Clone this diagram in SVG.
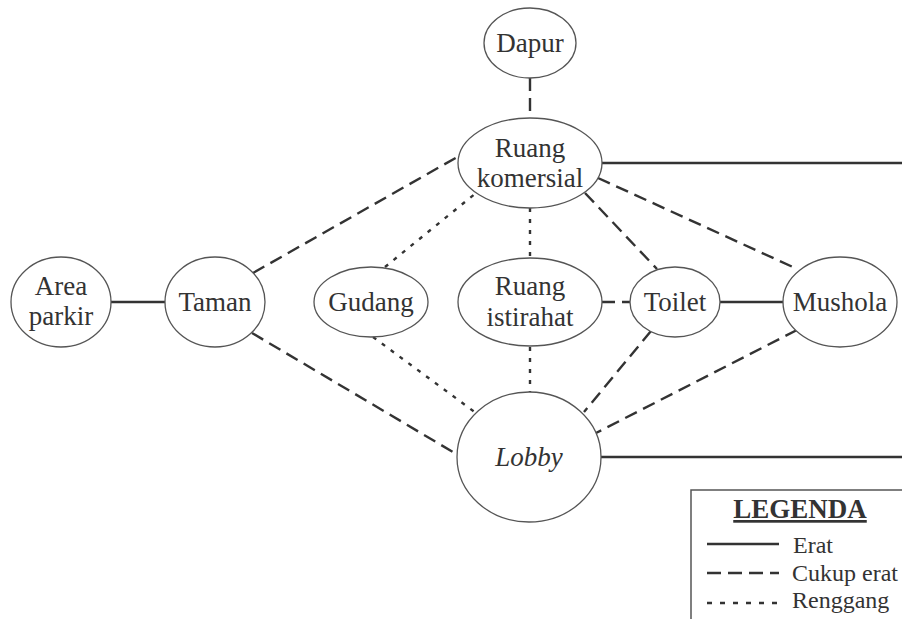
<svg xmlns="http://www.w3.org/2000/svg" width="902" height="619" viewBox="0 0 902 619">
<style>
.n{fill:#fff;stroke:#555;stroke-width:1.3}
.t{font-family:"Liberation Serif","DejaVu Serif",serif;font-size:27px;fill:#333;text-anchor:middle}
.s{fill:none;stroke:#333;stroke-width:2.4}
.d{fill:none;stroke:#333;stroke-width:2.4;stroke-dasharray:13 7}
.o{fill:none;stroke:#333;stroke-width:2.4;stroke-dasharray:4 7}
.l{font-family:"Liberation Serif","DejaVu Serif",serif;font-size:24px;fill:#333}
.h{font-family:"Liberation Serif","DejaVu Serif",serif;font-size:27px;font-weight:bold;fill:#333;text-anchor:middle;text-decoration:underline}
</style>
<rect width="902" height="619" fill="#fff"/>
<g id="connectors">
<line class="s" x1="111" y1="302" x2="165" y2="302"/>
<line class="s" x1="602" y1="163" x2="902" y2="163"/>
<line class="s" x1="601" y1="457" x2="902" y2="457"/>
<line class="s" x1="720" y1="302" x2="783" y2="302"/>
<line class="d" x1="530" y1="78" x2="530" y2="118"/>
<line class="d" x1="253" y1="273" x2="459" y2="156"/>
<line class="d" x1="252" y1="333" x2="458" y2="455"/>
<line class="d" x1="585" y1="193" x2="657" y2="269"/>
<line class="d" x1="598" y1="178" x2="795" y2="268"/>
<line class="d" x1="602" y1="302" x2="630" y2="302"/>
<line class="d" x1="651" y1="331" x2="584" y2="412"/>
<line class="d" x1="797" y1="330" x2="596" y2="433"/>
<line class="o" x1="385" y1="267" x2="476" y2="193"/>
<line class="o" x1="373" y1="337" x2="476" y2="413"/>
<line class="o" x1="530" y1="208" x2="530" y2="258"/>
<line class="o" x1="530" y1="347" x2="530" y2="392"/>
</g>
<g id="dapur"><ellipse class="n" cx="530" cy="43" rx="46" ry="35"/><text class="t" x="530" y="52">Dapur</text></g>
<g id="ruang-komersial"><ellipse class="n" cx="530" cy="163" rx="72" ry="45"/><text class="t" x="530" y="157">Ruang</text><text class="t" x="530" y="187">komersial</text></g>
<g id="area-parkir"><ellipse class="n" cx="61" cy="302" rx="50" ry="45"/><text class="t" x="61" y="295">Area</text><text class="t" x="61" y="325">parkir</text></g>
<g id="taman"><ellipse class="n" cx="215" cy="302" rx="50" ry="45"/><text class="t" x="215" y="311">Taman</text></g>
<g id="gudang"><ellipse class="n" cx="371" cy="302" rx="57" ry="35"/><text class="t" x="371" y="311">Gudang</text></g>
<g id="ruang-istirahat"><ellipse class="n" cx="530" cy="302" rx="72" ry="44"/><text class="t" x="530" y="295">Ruang</text><text class="t" x="530" y="326">istirahat</text></g>
<g id="toilet"><ellipse class="n" cx="675" cy="302" rx="45" ry="35"/><text class="t" x="675" y="311">Toilet</text></g>
<g id="mushola"><ellipse class="n" cx="840" cy="302" rx="57" ry="45"/><text class="t" x="840" y="311">Mushola</text></g>
<g id="lobby"><ellipse class="n" cx="529" cy="457" rx="72" ry="65"/><text class="t" x="529" y="466" font-style="italic">Lobby</text></g>
<g id="legend">
<rect x="691" y="490" width="220" height="140" fill="#fff" stroke="#555" stroke-width="1.5"/>
<text class="h" x="800" y="518">LEGENDA</text>
<line class="s" x1="707" y1="544" x2="779" y2="544"/>
<text class="l" x="793" y="553">Erat</text>
<line class="s" x1="707" y1="573" x2="779" y2="573" style="stroke-dasharray:14 7"/>
<text class="l" x="792" y="581">Cukup erat</text>
<line class="s" x1="707" y1="603" x2="779" y2="603" style="stroke-dasharray:5 8"/>
<text class="l" x="792" y="608">Renggang</text>
</g>
</svg>
